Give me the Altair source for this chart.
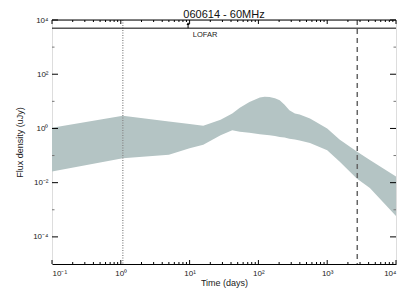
import math
import altair as alt
import pandas as pd

# ---- data ----
t_days = [0.1, 1.07, 5.0, 10, 15.8, 28.2, 41.7, 53.7, 74.1, 105, 123, 145, 174, 204,
          240, 282, 339, 398, 562, 1000, 1510, 2690, 4170, 10000]
flux_upper = [1.07, 2.95, 1.80, 1.45, 1.26, 2.09, 3.55, 5.75, 9.55, 13.8, 14.8, 14.5,
              12.9, 11.0, 7.41, 4.68, 3.55, 3.24, 2.34, 1.0, 0.389, 0.141, 0.0692, 0.0170]
flux_lower = [0.0257, 0.0794, 0.107, 0.186, 0.251, 0.562, 0.851, 0.759, 0.692, 0.617,
              0.589, 0.562, 0.525, 0.479, 0.468, 0.417, 0.389, 0.363, 0.288, 0.158,
              0.0603, 0.0141, 0.0063, 0.000589]

dotted_t = [1.07]
dashed_t = [2735]
lofar_flux = [5000]
lofar_arrow_t = [9.5]
lofar_arrow_top = [7400]
lofar_label = ["LOFAR"]
lofar_label_t = [11.1]
lofar_label_f = [2700]

x_major = [0.1, 1, 10, 100, 1000, 10000]
x_labels = ["10⁻¹", "10⁰", "10¹", "10²", "10³", "10⁴"]
y_major = [1e-4, 1e-2, 1, 1e2, 1e4]
y_labels = ["10⁻⁴", "10⁻²", "10⁰", "10²", "10⁴"]
y_minor = [1e-3, 1e-1, 10, 1e3]

W, H = 344, 244
FONT = "Liberation Sans"

x_minor = [m * d for d in [0.1, 1, 10, 100, 1000] for m in range(2, 10)]


def label_expr(values, labels):
    expr = "''"
    for v, l in reversed(list(zip(values, labels))):
        expr = f"abs(log(datum.value)/LN10 - ({math.log10(v)})) < 0.01 ? '{l}' : " + expr
    return expr


band = pd.DataFrame({"t": t_days, "hi": flux_upper, "lo": flux_lower})

xs = alt.Scale(type="log", domain=[0.1, 10000], nice=False)
ys = alt.Scale(type="log", domain=[1e-5, 1e4], nice=False)

x_axis = alt.Axis(
    title="Time (days)", values=x_major, labelExpr=label_expr(x_major, x_labels),
    tickSize=0, grid=False, domainColor="black", domainWidth=1,
    labelFontSize=8, labelFont=FONT, labelPadding=5, labelColor="#222",
    titleFont=FONT, titleFontSize=9, titleFontWeight="normal", titlePadding=1,
    titleColor="#222")
y_axis = alt.Axis(
    title="Flux density (uJy)", values=y_major, labelExpr=label_expr(y_major, y_labels),
    tickSize=0, grid=False, domain=False,
    labelFontSize=8, labelFont=FONT, labelPadding=4, labelColor="#222",
    titleFont=FONT, titleFontSize=9, titleFontWeight="normal", titlePadding=8,
    titleColor="#222")


def X(field="t"):
    return alt.X(f"{field}:Q", scale=xs, axis=x_axis)


def Y(field):
    return alt.Y(f"{field}:Q", scale=ys, axis=y_axis)


area = alt.Chart(band).mark_area(color="#b4c4c4", opacity=1).encode(
    x=X(), y=Y("hi"), y2="lo:Q")

dotted = alt.Chart(pd.DataFrame({"t": dotted_t})).mark_rule(
    color="#8a8a8a", strokeDash=[1, 1.5], strokeWidth=1.3).encode(x=X())

dashed = alt.Chart(pd.DataFrame({"t": dashed_t})).mark_rule(
    color="#666666", strokeDash=[5, 4], strokeWidth=1.5).encode(x=X())

lofar = alt.Chart(pd.DataFrame({"f": lofar_flux})).mark_rule(
    color="black", strokeWidth=1).encode(y=Y("f"))

arrow_df = pd.DataFrame({"t": lofar_arrow_t, "f": lofar_flux, "f2": lofar_arrow_top})
arrow_line = alt.Chart(arrow_df).mark_rule(color="black", strokeWidth=1).encode(
    x=X(), y=Y("f"), y2="f2:Q")
arrow_head = alt.Chart(arrow_df).mark_point(
    shape="triangle-up", filled=True, color="black", size=10, opacity=1).encode(
    x=X(), y=Y("f2"))

lofar_text = alt.Chart(pd.DataFrame({"t": lofar_label_t, "f": lofar_label_f,
                                     "s": lofar_label})).mark_text(
    align="left", baseline="middle", fontSize=7.5, font=FONT, color="#222").encode(
    x=X(), y=Y("f"), text="s:N")


def xticks(vals, length):
    df = pd.DataFrame({"t": vals})
    bot = alt.Chart(df).mark_rule(color="black", strokeWidth=1).encode(
        x=X(), y=alt.value(H), y2=alt.value(H - length))
    top = alt.Chart(df).mark_rule(color="black", strokeWidth=1).encode(
        x=X(), y=alt.value(0), y2=alt.value(length))
    return [bot, top]


def yticks(vals, length, color):
    df = pd.DataFrame({"f": vals})
    left = alt.Chart(df).mark_rule(color=color, strokeWidth=1).encode(
        y=Y("f"), x=alt.value(0), x2=alt.value(length))
    right = alt.Chart(df).mark_rule(color=color, strokeWidth=1).encode(
        y=Y("f"), x=alt.value(W), x2=alt.value(W - length))
    return [left, right]


top_line = alt.Chart(pd.DataFrame({"f": [1e4]})).mark_rule(
    color="black", strokeWidth=1).encode(y=Y("f"))

layers = [area, dotted, dashed, lofar, arrow_line, arrow_head, lofar_text, top_line]
layers += xticks(x_major, 4) + xticks(x_minor, 2)
layers += yticks(y_major, 6, "black") + yticks(y_minor, 2.5, "#777777")

chart = alt.layer(*layers).properties(
    width=W, height=H,
    title=alt.TitleParams("060614 - 60MHz", font=FONT, fontSize=11,
                          fontWeight="normal", color="#111", offset=2, dy=6),
    autosize=alt.AutoSizeParams(type="none"),
    padding={"left": 44, "top": 12, "right": 10, "bottom": 30},
).configure_view(stroke="#808080", strokeWidth=2).configure(background="white")

chart.save("out.html", embed_options={"renderer": "svg", "actions": False})
